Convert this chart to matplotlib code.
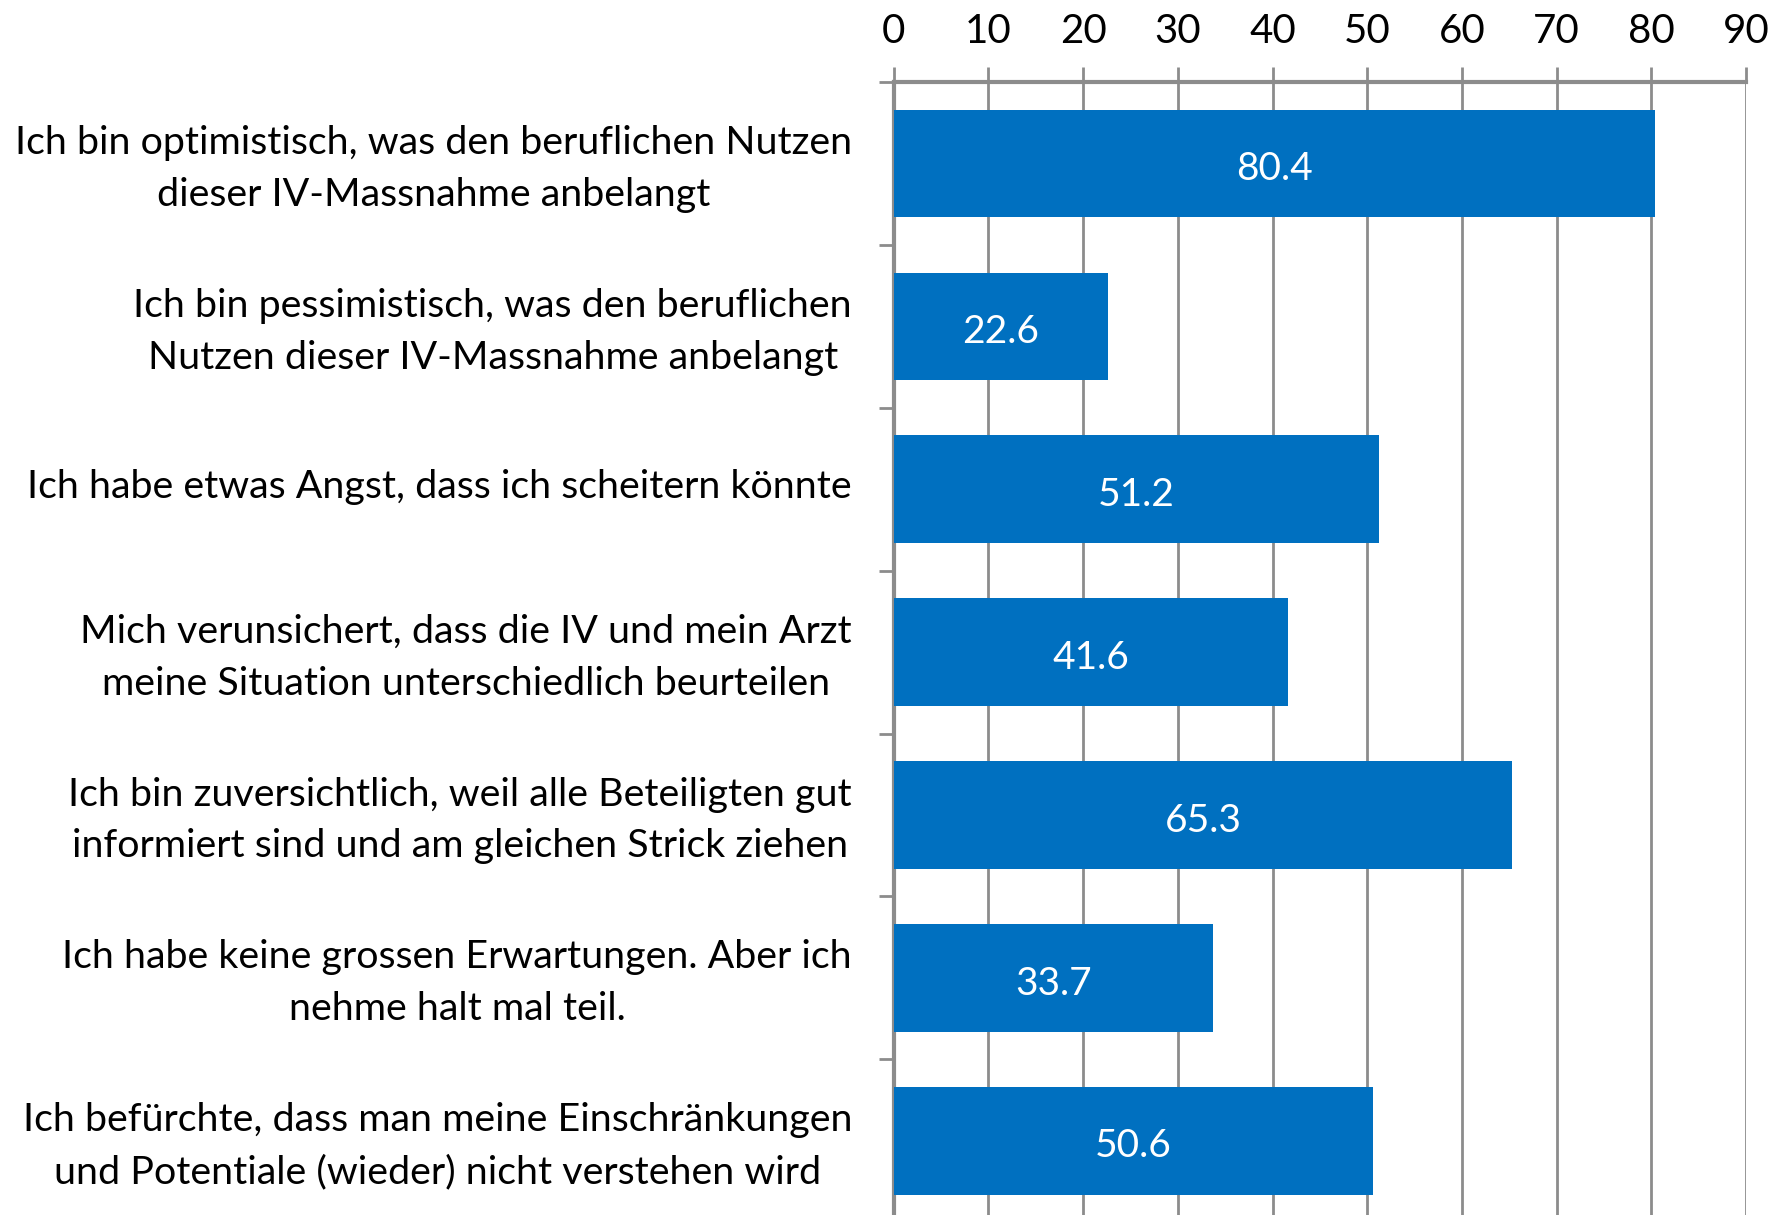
# Balkendiagramm: Erwartungen an die IV-Massnahme (Anteile in %)

import matplotlib.pyplot as plt
from matplotlib.transforms import ScaledTranslation

categories = [
    'Ich bin optimistisch, was den beruflichen Nutzen\ndieser IV-Massnahme anbelangt',
    'Ich bin pessimistisch, was den beruflichen\nNutzen dieser IV-Massnahme anbelangt',
    'Ich habe etwas Angst, dass ich scheitern könnte',
    'Mich verunsichert, dass die IV und mein Arzt\nmeine Situation unterschiedlich beurteilen',
    'Ich bin zuversichtlich, weil alle Beteiligten gut\ninformiert sind und am gleichen Strick ziehen',
    'Ich habe keine grossen Erwartungen. Aber ich\nnehme halt mal teil.',
    'Ich befürchte, dass man meine Einschränkungen\nund Potentiale (wieder) nicht verstehen wird',
]
values = [80.4, 22.6, 51.2, 41.6, 65.3, 33.7, 50.6]
xticks = [0, 10, 20, 30, 40, 50, 60, 70, 80, 90]

plt.rcParams['font.family'] = ['Lato', 'DejaVu Sans']
grey = '#8c8c8c'

fig = plt.figure(figsize=(17.84, 12.15), dpi=100)
ax = fig.add_axes([0.501, -0.006, 0.4777, 0.9385])

pos = list(range(len(categories)))
bars = ax.barh(pos, values, height=0.66, color='#0070C0', zorder=3)

# Werte mittig in die Balken schreiben
for b, v in zip(bars, values):
    ax.annotate(f'{v:.1f}', (b.get_width() / 2, b.get_y() + b.get_height() / 2),
                xytext=(0, -4), textcoords='offset points',
                color='white', ha='center', va='center', fontsize=28, zorder=4)

ax.set_xlim(0, 90)
ax.set_ylim(len(categories) - 0.5, -0.5)
ax.xaxis.tick_top()
ax.set_xticks(xticks)
ax.set_xticklabels([str(t) for t in xticks])
ax.tick_params(axis='x', length=11, width=2, color=grey, labelsize=29, pad=12)
ax.grid(axis='x', color=grey, linewidth=2, zorder=0)

ax.set_yticks(pos)
ax.set_yticklabels(categories, multialignment='center', linespacing=1.55)
ax.tick_params(axis='y', which='major', length=0, labelsize=28.4, pad=30)
ax.set_yticks([p - 0.5 for p in pos] + [len(pos) - 0.5], minor=True)
ax.tick_params(axis='y', which='minor', length=11, width=2, color=grey)

# Beschriftungen etwas nach oben schieben
shift = ScaledTranslation(0, 0.06, fig.dpi_scale_trans)
for lbl in ax.get_yticklabels():
    lbl.set_transform(lbl.get_transform() + shift)

for s in ['right', 'bottom']:
    ax.spines[s].set_visible(False)
ax.spines['top'].set_color(grey)
ax.spines['top'].set_linewidth(3)
ax.spines['left'].set_color(grey)
ax.spines['left'].set_linewidth(3)

fig.savefig('out.png', dpi=100)
